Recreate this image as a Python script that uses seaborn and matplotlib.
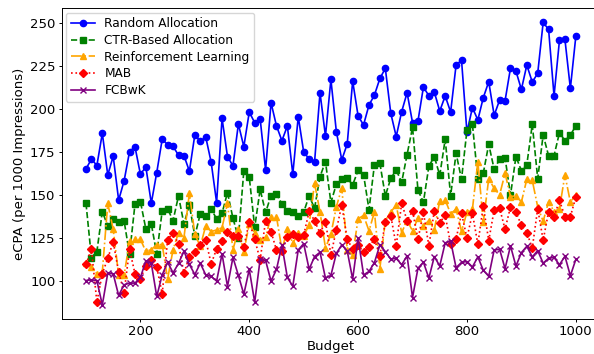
import numpy as np
import pandas as pd
import matplotlib
matplotlib.use("Agg")
import matplotlib.pyplot as plt
import seaborn as sns

budget = list(range(100, 1001, 10))

random_alloc = [165.1, 170.9, 167.1, 185.9, 161.6, 172.5, 146.9, 158.1, 175.2, 178.1,
                162.0, 166.3, 145.1, 163.0, 182.4, 179.3, 178.3, 173.1, 172.9, 163.8,
                185.1, 181.2, 183.8, 169.0, 145.5, 194.6, 172.3, 166.9, 191.3, 178.1,
                198.3, 192.1, 194.4, 164.5, 203.8, 190.2, 181.6, 190.2, 162.0, 195.6,
                175.0, 170.9, 169.2, 209.6, 184.3, 217.3, 186.9, 170.4, 179.7, 216.4,
                196.0, 190.8, 202.4, 208.2, 217.9, 223.8, 197.6, 184.0, 198.5, 209.6,
                192.1, 193.1, 212.9, 207.8, 210.0, 198.9, 207.7, 198.3, 225.7, 228.6,
                186.5, 200.9, 193.7, 206.7, 216.0, 196.4, 205.3, 204.9, 224.0, 222.2,
                211.5, 225.7, 215.8, 220.9, 250.6, 246.5, 207.7, 240.3, 240.7, 212.1,
                242.4]

ctr_alloc = [145.1, 113.4, 116.9, 140.2, 131.9, 135.8, 134.0, 134.8, 115.4, 144.5,
             146.1, 130.1, 133.0, 115.6, 140.6, 141.8, 135.0, 149.4, 133.0, 144.1,
             126.0, 138.9, 137.9, 141.7, 136.0, 139.3, 151.3, 136.4, 125.0, 163.9,
             160.4, 131.0, 153.2, 139.7, 149.6, 150.5, 144.7, 140.6, 139.7, 137.9,
             139.9, 149.4, 142.2, 160.6, 169.4, 145.5, 156.2, 159.3, 159.7, 155.8,
             164.3, 161.8, 141.4, 167.6, 168.4, 149.4, 159.6, 164.5, 157.3, 173.5,
             189.4, 152.7, 145.7, 166.7, 172.3, 161.4, 182.4, 149.6, 174.2, 159.1,
             187.8, 191.3, 159.3, 162.6, 179.5, 164.9, 170.7, 171.6, 149.9, 172.3,
             164.1, 167.6, 191.1, 159.5, 184.9, 172.8, 172.9, 186.3, 181.6, 184.9,
             190.2]

rl = [110.0, 108.0, 104.0, 105.0, 145.0, 130.0, 103.0, 103.0, 123.0, 124.0,
      124.0, 117.0, 118.0, 121.0, 121.0, 101.0, 118.0, 128.0, 125.0, 151.0,
      127.0, 120.0, 131.9, 128.6, 129.5, 130.9, 145.1, 117.9, 129.9, 116.9,
      133.0, 128.0, 123.7, 125.3, 137.3, 137.3, 117.9, 129.9, 121.8, 127.6,
      126.1, 132.5, 156.8, 140.0, 119.0, 127.0, 143.0, 154.0, 118.0, 115.0,
      136.0, 138.0, 129.0, 140.0, 107.0, 135.0, 140.0, 144.0, 128.0, 135.0,
      129.0, 136.4, 131.9, 135.0, 129.5, 146.6, 147.0, 139.0, 141.6, 128.8,
      139.8, 141.6, 169.4, 134.0, 159.4, 153.8, 150.0, 162.6, 149.0, 149.5,
      145.8, 159.1, 158.4, 143.0, 134.6, 146.1, 140.2, 142.0, 161.6, 145.8,
      150.0]

mab = [109.5, 118.3, 87.4, 104.0, 113.0, 122.5, 105.0, 93.0, 118.3, 104.0,
       101.0, 108.5, 112.0, 107.8, 92.3, 123.7, 128.0, 121.2, 104.3, 114.0,
       116.9, 121.0, 123.7, 109.7, 118.5, 122.8, 128.6, 126.1, 126.1, 119.8,
       134.1, 124.0, 112.1, 134.9, 128.6, 117.7, 117.4, 125.3, 127.0, 125.2,
       126.4, 140.4, 134.9, 127.6, 134.4, 115.0, 129.5, 144.1, 124.1, 118.3,
       120.8, 116.5, 119.8, 124.1, 114.4, 134.4, 137.9, 120.2, 145.1, 135.0,
       140.6, 124.1, 139.7, 120.2, 140.6, 133.8, 138.0, 121.2, 124.1, 139.3,
       124.7, 139.3, 121.2, 143.5, 123.3, 141.2, 142.2, 129.9, 143.0, 140.0,
       132.2, 128.0, 118.9, 142.0, 123.5, 140.2, 137.1, 146.8, 137.3, 137.3,
       148.6]

fcbwk = [100.0, 100.4, 100.0, 85.8, 104.3, 103.9, 91.3, 97.5, 98.5, 98.5,
         101.8, 111.5, 110.1, 90.7, 103.3, 110.7, 104.5, 110.0, 117.1, 109.4,
         103.5, 110.1, 103.3, 102.4, 99.7, 115.5, 96.5, 113.5, 103.0, 92.0,
         106.5, 87.3, 112.5, 111.7, 99.7, 106.5, 120.5, 101.8, 96.7, 117.9,
         121.5, 106.6, 114.0, 116.5, 101.4, 103.0, 115.9, 120.8, 117.3, 100.8,
         124.7, 103.3, 105.3, 110.5, 120.8, 116.9, 112.5, 113.0, 109.2, 114.4,
         90.1, 107.2, 110.7, 101.4, 114.0, 108.5, 122.0, 123.0, 107.5, 110.6,
         111.1, 107.9, 113.8, 106.0, 102.5, 117.9, 118.2, 107.0, 120.2, 108.4,
         116.3, 120.0, 113.8, 117.5, 110.1, 113.0, 113.5, 109.2, 114.2, 102.8,
         112.3]

series_names = ["Random Allocation", "CTR-Based Allocation",
                "Reinforcement Learning", "MAB", "FCBwK"]
series_values = [random_alloc, ctr_alloc, rl, mab, fcbwk]

styles = [
    dict(color="blue", marker="o", linestyle="-", markersize=4.5),
    dict(color="green", marker="s", linestyle="--", markersize=4.0),
    dict(color="orange", marker="^", linestyle="-.", markersize=4.5),
    dict(color="red", marker="D", linestyle=":", markersize=4.5),
    dict(color="purple", marker="x", linestyle="-", markersize=4.5),
]

plt.rcParams["font.family"] = ["DejaVu Sans"]
plt.rcParams["font.size"] = 9

fig = plt.figure(figsize=(5.94, 3.54), dpi=100)
ax = fig.add_axes([61.5 / 594, 35.0 / 354, 538.8 / 594, 310.7 / 354])

for name, vals, st in zip(series_names, series_values, styles):
    df = pd.DataFrame({"Budget": budget, "val": vals})
    sns.lineplot(data=df, x="Budget", y="val", ax=ax, label=name,
                 linewidth=1.2, markeredgewidth=1.0,
                 markeredgecolor=st["color"], **st)

ax.set_xlabel("Budget", fontsize=9.5, labelpad=1.5)
ax.set_ylabel("eCPA (per 1000 Impressions)", fontsize=9.5, labelpad=3)
ax.set_xticks([200, 400, 600, 800, 1000])
ax.set_yticks([100, 125, 150, 175, 200, 225, 250])
ax.tick_params(labelsize=9.5, length=2.2, pad=2.2, width=0.7)
for s in ax.spines.values():
    s.set_linewidth(0.7)
ax.legend(loc="upper left", fontsize=8.7, borderaxespad=0.35,
          handlelength=2.0, labelspacing=0.3)

fig.savefig("out.png", dpi=100)
